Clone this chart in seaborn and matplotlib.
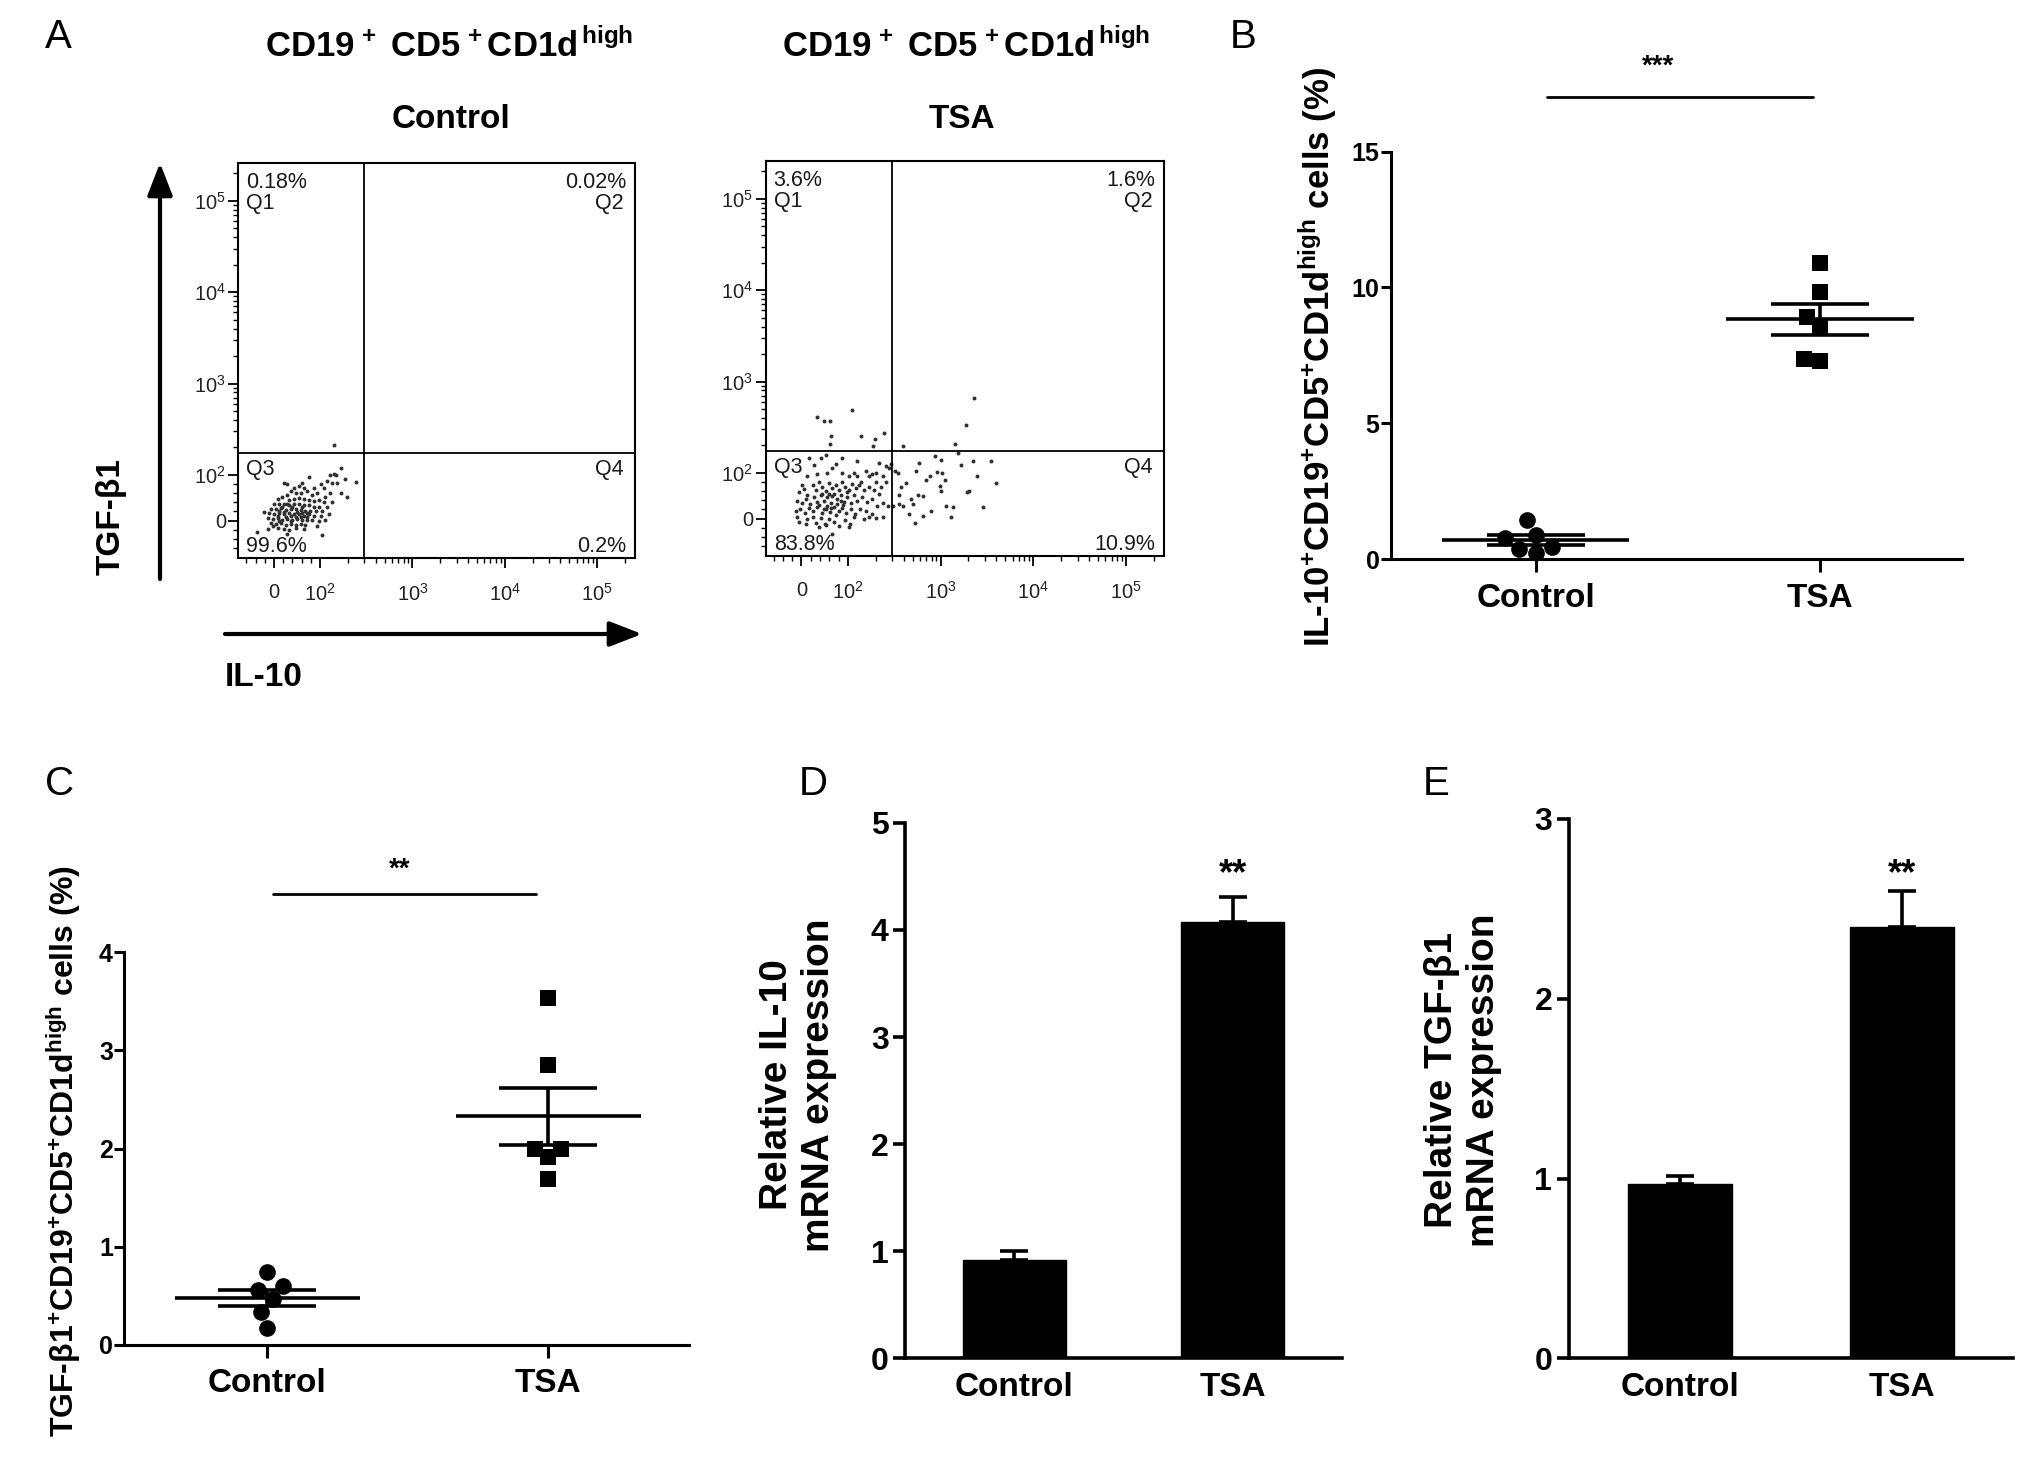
import numpy as np
import pandas as pd
import matplotlib
matplotlib.use('Agg')
import matplotlib.pyplot as plt
import seaborn as sns
from matplotlib.ticker import FixedLocator

groups = ['Control', 'TSA']

# A: flow events, IL-10 (x) vs TGF-b1 (y) intensity, CD19+CD5+CD1d-high gate
ctrl_il10 = [141, 166, 141, 129, 150, 184, 242, 119, 135, 153,
             76, 61, 86, 110, 22, 29, 43, 54, 65, 101,
             166, 196, 129, 114, 94, 83, 72, 58, 47, 36,
             29, 18, 8, 33, 43, 54, 65, 76, 86, 97,
             110, 135, 0, 11, 22, 33, 43, 54, 65, 76,
             86, 97, 119, -7, 4, 15, 25, 36, 47, 58,
             68, 79, 90, 105, -21, -10, 0, 11, 22, 33,
             43, 54, 65, 76, 86, 101, 124, -14, -3, 8,
             18, 29, 40, 50, 61, 72, 83, 97, 114, -7,
             4, 15, 25, 36, 47, 58, 68, 94, -14, 8,
             22, 33, 47, 65, -36, 29, 105, -3, 11, 47,
             61, 36, 22, 8, 72, 18, 40, 50, 61, 25,
             36, 58, 11, 72, 29]
ctrl_tgf = [213, 120, 102, 100, 100, 91, 84, 87, 83, 83,
            96, 83, 71, 71, 83, 79, 71, 75, 71, 79,
            60, 52, 60, 52, 60, 56, 64, 60, 60, 64,
            56, 52, 48, 44, 48, 50, 47, 44, 42, 44,
            41, 41, 37, 37, 37, 33, 37, 37, 33, 33,
            29, 29, 29, 25, 25, 27, 24, 25, 25, 24,
            21, 21, 21, 21, 18, 16, 14, 16, 14, 16,
            14, 14, 11, 14, 10, 11, 14, 6, 4, 5,
            2, 4, 2, 4, 2, 1, 2, -2, 2, -5,
            -7, -5, -9, -7, -9, -7, -9, -12, -19, -17,
            -19, -21, -17, -19, -25, -30, -31, -13, -2, 8,
            29, 11, 19, 11, 8, 29, 29, 18, 16, 8,
            -2, 8, 21, 16, 37]
tsa_il10 = [34, 49, 61, 110, 64, 62, 138, 197, 247, 187,
            2290, 1875, 1425, 391,
            1549, 863, 1020, 593, 1683, 2215, 3470, 325, 345, 546,
            762, 916, 1046, 700, 2453, 425, 375, 978, 1110, 3980,
            1908, 2040, 1020, 359, 569, 645, 359, 391, 481, 502,
            1157, 1367, 2895, 461, 794, 645, 1310, 537, 310,
            16, 42, 52, 74, 88, 127, 218, 258, 280, 292,
            27, 67, 56, 88, 117, 156, 200, 237, 34, 13,
            2, 103, 127, 170, 184, 138, 227, 200, 258,
            -5, 6, 13, 24, 31, 38, 45, 52, 59, 67, 74,
            81, 88, 95, 103, 112, 122, 132, 150, 170, 192, 218,
            -9, 1, 9, 18, 27, 34, 42, 49, 56, 63, 70, 77,
            85, 92, 99, 107, 117, 127, 144, 163, 184, 209, 237,
            -11, -2, 8, 16, 25, 34, 44, 52, 61, 70, 80,
            88, 97, 107, 120, 134, 156, 181, 200, 237, 270,
            -5, 13, 24, 32, 42, 51, 59, 70, 82, 95, 105, 117, 150, 170,
            38, 52, 67, 9, -9, 103,
            45, 56, 67, 77, 90, 99, 38, 63, 74, 85, 49, 59]
tsa_tgf = [413, 371, 371, 486, 253, 205, 253, 237, 274, 198,
           658, 334, 205, 198,
           167, 155, 139, 128, 121, 134, 134, 105, 100, 105,
           93, 103, 100, 85, 93, 77, 70, 72, 85, 77,
           58, 60, 60, 51, 52, 49, 31, 28, 43, 31,
           28, 26, 26, 11, 16, 6, 4, -9, 28,
           145, 147, 157, 125, 145, 134, 128, 118, 114, 125,
           123, 114, 100, 100, 100, 105, 100, 93, 97, 93,
           74, 93, 93, 93, 97, 81, 70, 81, 81,
           58, 64, 51, 74, 62, 81, 70, 60, 77, 66, 74,
           62, 80, 70, 62, 75, 66, 74, 62, 70, 62, 54,
           39, 35, 43, 31, 47, 37, 51, 39, 47, 35, 54, 43,
           51, 37, 47, 35, 51, 39, 47, 37, 43, 28, 34,
           16, 21, 12, 24, 16, 26, 12, 21, 14, 26, 16,
           24, 12, 21, 11, 20, 16, 11, 1, 4, 28,
           -7, -2, 4, -9, 1, -13, -2, -7, -17, -3, -13, 4, -2, 4,
           -19, -15, -34, -11, 4, -19,
           54, 28, 49, 31, 29, 58, 29, 24, 8, 39, 20, 54]
gate_il10 = 300
gate_tgf = 175
ctrl_quads = ['0.18%', '0.02%', '99.6%', '0.2%']
tsa_quads = ['3.6%', '1.6%', '83.8%', '10.9%']
flow_ticks = [0, 1e2, 1e3, 1e4, 1e5]
flow_ticklabels = ['0', r'$\mathrm{10^{2}}$', r'$\mathrm{10^{3}}$',
                   r'$\mathrm{10^{4}}$', r'$\mathrm{10^{5}}$']

# B, C: per-sample percentages
b_control = [0.90, 1.44, 0.44, 0.22, 0.39, 0.78]
b_tsa = [10.91, 9.85, 8.92, 8.58, 7.31, 7.36]
c_control = [0.74, 0.56, 0.60, 0.46, 0.33, 0.17]
c_tsa = [3.53, 2.85, 2.00, 2.00, 1.91, 1.69]

# D, E: relative mRNA expression (mean, SEM)
d_mean = [0.92, 4.07]
d_sem = [0.08, 0.24]
e_mean = [0.97, 2.40]
e_sem = [0.045, 0.20]

sns.set_theme(style='ticks', rc={'axes.edgecolor': 'black', 'xtick.color': 'black',
                                 'ytick.color': 'black', 'text.color': 'black',
                                 'axes.labelcolor': 'black'})
plt.rcParams['font.family'] = ['Liberation Sans', 'DejaVu Sans']
plt.rcParams['mathtext.fontset'] = 'custom'
plt.rcParams['mathtext.rm'] = 'Liberation Sans'
plt.rcParams['mathtext.bf'] = 'Liberation Sans:bold'
plt.rcParams['mathtext.it'] = 'Liberation Sans:italic'

W, H = 2031, 1461
fig = plt.figure(figsize=(W / 100, H / 100), dpi=100)


def px_axes(x0, y0, x1, y1):
    return fig.add_axes([x0 / W, 1 - y1 / H, (x1 - x0) / W, (y1 - y0) / H])


def ftext(x, y, s, **kw):
    fig.text(x / W, 1 - y / H, s, **kw)


def flow_panel(ax, il10, tgf, quads):
    sns.scatterplot(x=il10, y=tgf, s=8, color='#303030', linewidth=0, ax=ax, legend=False)
    ax.set_xscale('symlog', linthresh=100, linscale=0.45)
    ax.set_yscale('symlog', linthresh=100, linscale=0.45)
    ax.set_xlim(-77, 2.6e5)
    ax.set_ylim(-82, 2.6e5)
    ax.axvline(gate_il10, color='black', lw=1.3)
    ax.axhline(gate_tgf, color='black', lw=1.3)
    minor = [-60, -40, -20, 20, 40, 60, 80] + [m * 10 ** k for k in range(2, 6) for m in range(2, 10)]
    for axis in (ax.xaxis, ax.yaxis):
        axis.set_major_locator(FixedLocator(flow_ticks))
        axis.set_minor_locator(FixedLocator(minor))
    ax.set_xticklabels(flow_ticklabels)
    ax.set_yticklabels(flow_ticklabels)
    ax.tick_params(which='major', length=7, width=1.3, labelsize=14.5, labelcolor='#222222')
    ax.tick_params(which='minor', length=3.5, width=1.0)
    ax.tick_params(axis='x', which='major', pad=11)
    ax.tick_params(axis='y', which='major', pad=2)
    for sp in ax.spines.values():
        sp.set_linewidth(1.5)
    kw = dict(textcoords='offset pixels', va='center', fontsize=15.5, color='#1a1a1a')
    ax.annotate(quads[0], xy=(0, 1), xycoords='axes fraction', xytext=(8, -19), ha='left', **kw)
    ax.annotate('Q1', xy=(0, 1), xycoords='axes fraction', xytext=(8, -41), ha='left', **kw)
    ax.annotate(quads[1], xy=(1, 1), xycoords='axes fraction', xytext=(-9, -19), ha='right', **kw)
    ax.annotate('Q2', xy=(1, 1), xycoords='axes fraction', xytext=(-12, -41), ha='right', **kw)
    ax.annotate('Q3', xy=(0, gate_tgf), xycoords=('axes fraction', 'data'), xytext=(8, -17), ha='left', **kw)
    ax.annotate('Q4', xy=(1, gate_tgf), xycoords=('axes fraction', 'data'), xytext=(-12, -17), ha='right', **kw)
    ax.annotate(quads[2], xy=(0, 0), xycoords='axes fraction', xytext=(8, 12), ha='left', **kw)
    ax.annotate(quads[3], xy=(1, 0), xycoords='axes fraction', xytext=(-9, 12), ha='right', **kw)


def dot_panel(ax, ctrl, tsa, ymax, yticks, sig_x, sig_y, star_xy, star):
    df = pd.DataFrame({'group': ['Control'] * len(ctrl) + ['TSA'] * len(tsa),
                       'value': ctrl + tsa})
    sns.swarmplot(data=df[df.group == 'Control'], x='group', y='value', order=groups,
                  marker='o', size=12, color='black', ax=ax)
    sns.swarmplot(data=df[df.group == 'TSA'], x='group', y='value', order=groups,
                  marker='s', size=11, color='black', ax=ax)
    for i, vals in enumerate([ctrl, tsa]):
        m = np.mean(vals)
        se = np.std(vals, ddof=1) / np.sqrt(len(vals))
        ax.hlines(m, i - 0.33, i + 0.33, color='black', lw=2.6, zorder=4)
        ax.errorbar(i, m, yerr=se, fmt='none', ecolor='black', elinewidth=2.6,
                    capsize=35, capthick=2.6, zorder=4)
    ax.set_xlim(-0.51, 1.5)
    ax.set_ylim(0, ymax)
    ax.set_yticks(yticks)
    ax.set(xlabel='', ylabel='')
    ax.plot(sig_x, [sig_y, sig_y], color='black', lw=2, clip_on=False)
    ax.text(star_xy[0], star_xy[1], star, ha='center', va='baseline', fontsize=20,
            fontweight='bold', clip_on=False)
    sns.despine(ax=ax)
    for sp in ('left', 'bottom'):
        ax.spines[sp].set_linewidth(2.2)
    ax.tick_params(axis='y', length=7, width=2.2, labelsize=18, pad=1)
    ax.tick_params(axis='x', length=9, width=2.2, labelsize=24, pad=8)
    for lab in ax.get_xticklabels() + ax.get_yticklabels():
        lab.set_fontweight('bold')


def bar_panel(ax, means, sems, ymax, yticks, star_y):
    sns.barplot(x=groups, y=means, color='black', saturation=1, width=0.47,
                edgecolor='black', errorbar=None, ax=ax)
    ax.errorbar([0, 1], means, yerr=[[0, 0], sems], fmt='none', ecolor='black',
                elinewidth=2.6, capsize=10, capthick=2.6, zorder=1)
    ax.set_xlim(-0.5, 1.5)
    ax.set_ylim(0, ymax)
    ax.set_yticks(yticks)
    ax.set(xlabel='', ylabel='')
    ax.text(1, star_y, '**', ha='center', va='baseline', fontsize=26,
            fontweight='bold', clip_on=False)
    sns.despine(ax=ax)
    for sp in ('left', 'bottom'):
        ax.spines[sp].set_linewidth(2.6)
    ax.tick_params(axis='y', length=9, width=2.6, labelsize=23, pad=3)
    ax.tick_params(axis='x', length=0, labelsize=24, pad=10)
    for lab in ax.get_xticklabels() + ax.get_yticklabels():
        lab.set_fontweight('bold')


title_txt = r'CD19$^{\mathbf{\,+}}$ CD5$^{\mathbf{\,+}}$CD1d$^{\mathbf{\,high}}$'

# panel A
ax_a1 = px_axes(238.5, 163, 635.4, 558)
flow_panel(ax_a1, ctrl_il10, ctrl_tgf, ctrl_quads)
ax_a2 = px_axes(765.7, 161, 1164.5, 556)
flow_panel(ax_a2, tsa_il10, tsa_tgf, tsa_quads)

ftext(58, 37, 'A', fontsize=29, ha='center', va='center')
ftext(449, 46, title_txt, fontsize=25, fontweight='bold', ha='center', va='center')
ftext(451, 119, 'Control', fontsize=24, fontweight='bold', ha='center', va='center')
ftext(966, 46, title_txt, fontsize=25, fontweight='bold', ha='center', va='center')
ftext(962, 119, 'TSA', fontsize=24, fontweight='bold', ha='center', va='center')
ftext(111, 517, 'TGF-β1', fontsize=24, fontweight='bold', rotation=90, ha='center', va='center')
ftext(225, 677, 'IL-10', fontsize=24, fontweight='bold', ha='left', va='center')

arrow = dict(arrowstyle='-|>,head_length=0.9,head_width=0.35', lw=3, color='black',
             mutation_scale=22, shrinkA=0, shrinkB=0)
ax_a1.annotate('', xy=(160, H - 163), xycoords='figure pixels',
               xytext=(160, H - 579), textcoords='figure pixels',
               arrowprops=arrow, annotation_clip=False)
ax_a1.annotate('', xy=(642, H - 634), xycoords='figure pixels',
               xytext=(225, H - 634), textcoords='figure pixels',
               arrowprops=arrow, annotation_clip=False)

# panel B
ax_b = px_axes(1390.7, 151.5, 1962, 559.3)
dot_panel(ax_b, b_control, b_tsa, 15, [0, 5, 10, 15], [0.04, 0.975], 17.0,
          (0.43, 17.87), '***')
ftext(1243, 37, 'B', fontsize=29, ha='center', va='center')
ftext(1318, 357, r'IL-10$^{\mathbf{+}}$CD19$^{\mathbf{+}}$CD5$^{\mathbf{+}}$CD1d$^{\mathbf{high}}$ cells (%)',
      fontsize=25, fontweight='bold', rotation=90, ha='center', va='center')

# panel C
ax_c = px_axes(124, 952.4, 688.7, 1344.6)
dot_panel(ax_c, c_control, c_tsa, 4, [0, 1, 2, 3, 4], [0.02, 0.958], 4.6,
          (0.47, 4.77), '**')
ftext(60, 784, 'C', fontsize=29, ha='center', va='center')
ftext(64, 1151, r'TGF-β1$^{\mathbf{+}}$CD19$^{\mathbf{+}}$CD5$^{\mathbf{+}}$CD1d$^{\mathbf{high}}$ cells (%)',
      fontsize=23, fontweight='bold', rotation=90, ha='center', va='center')

# panel D
ax_d = px_axes(905.2, 822.8, 1342, 1358.4)
bar_panel(ax_d, d_mean, d_sem, 5, [0, 1, 2, 3, 4, 5], 4.43)
ftext(813, 784, 'D', fontsize=29, ha='center', va='center')
ftext(798, 1085, 'Relative IL-10\nmRNA expression', fontsize=28, fontweight='bold',
      rotation=90, ha='center', va='center', multialignment='center')

# panel E
ax_e = px_axes(1568.9, 819, 2013, 1358.4)
bar_panel(ax_e, e_mean, e_sem, 3, [0, 1, 2, 3], 2.64)
ftext(1436, 784, 'E', fontsize=29, ha='center', va='center')
ftext(1463, 1080, 'Relative TGF-β1\nmRNA expression', fontsize=28, fontweight='bold',
      rotation=90, ha='center', va='center', multialignment='center')

fig.savefig('out.png', dpi=100, facecolor='white')
